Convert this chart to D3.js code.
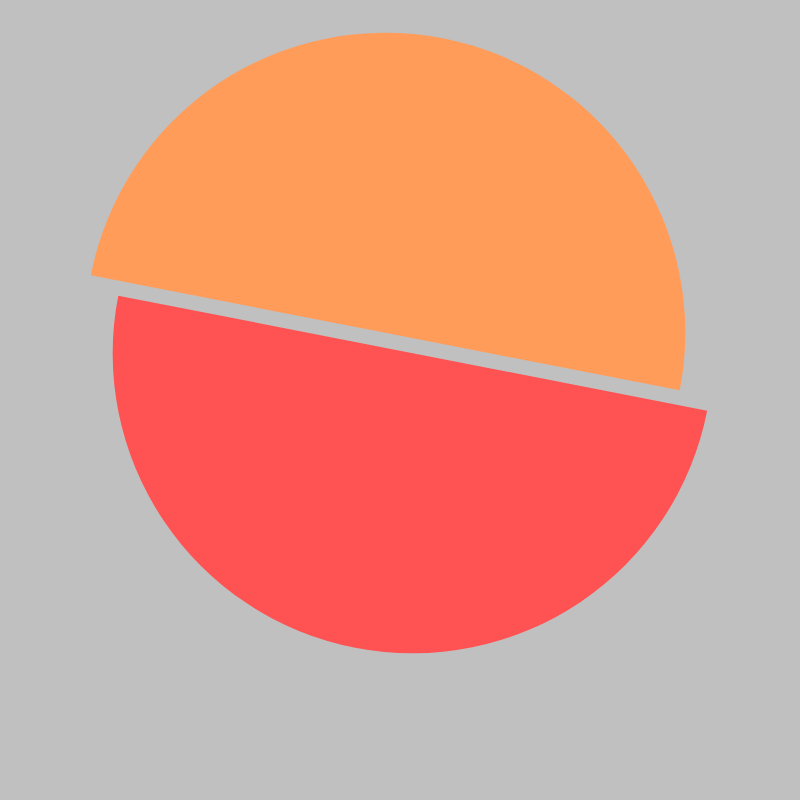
<!DOCTYPE html>
<html>
<head>
<meta charset="utf-8">
<script src="https://cdn.jsdelivr.net/npm/d3@7"></script>
<style>
  html, body { margin: 0; padding: 0; background: #c0c0c0; }
  svg { display: block; }
</style>
</head>
<body>
<div id="chart"></div>
<script>
// data
const categories = ['A', 'B'];
const values = [50, 50];
const colors = ['#ff9c5a', '#ff5252'];

const width = 800;
const height = 800;
const radius = 300;
const center = {x: 399, y: 343};
const rotation = -78.95 * Math.PI / 180;
// per-slice shift from the pie centre (exploded look)
const shifts = [[-13.7, -10.2], [13.7, 10.2]];

const svg = d3.select('#chart').append('svg')
  .attr('width', width)
  .attr('height', height);

svg.append('rect')
  .attr('width', width)
  .attr('height', height)
  .attr('fill', '#c0c0c0');

const pie = d3.pie()
  .sort(null)
  .value(d => d.value)
  .startAngle(rotation)
  .endAngle(rotation + 2 * Math.PI);

const arc = d3.arc().innerRadius(0).outerRadius(radius);

const slices = pie(categories.map((c, i) => ({name: c, value: values[i]})));

const plot = svg.append('g')
  .attr('transform', `translate(${center.x},${center.y})`);

plot.selectAll('.slice')
  .data(slices)
  .enter()
  .append('path')
  .attr('class', 'slice')
  .attr('transform', (d, i) => `translate(${shifts[i][0]},${shifts[i][1]})`)
  .attr('d', arc)
  .attr('fill', (d, i) => colors[i]);
</script>
</body>
</html>
